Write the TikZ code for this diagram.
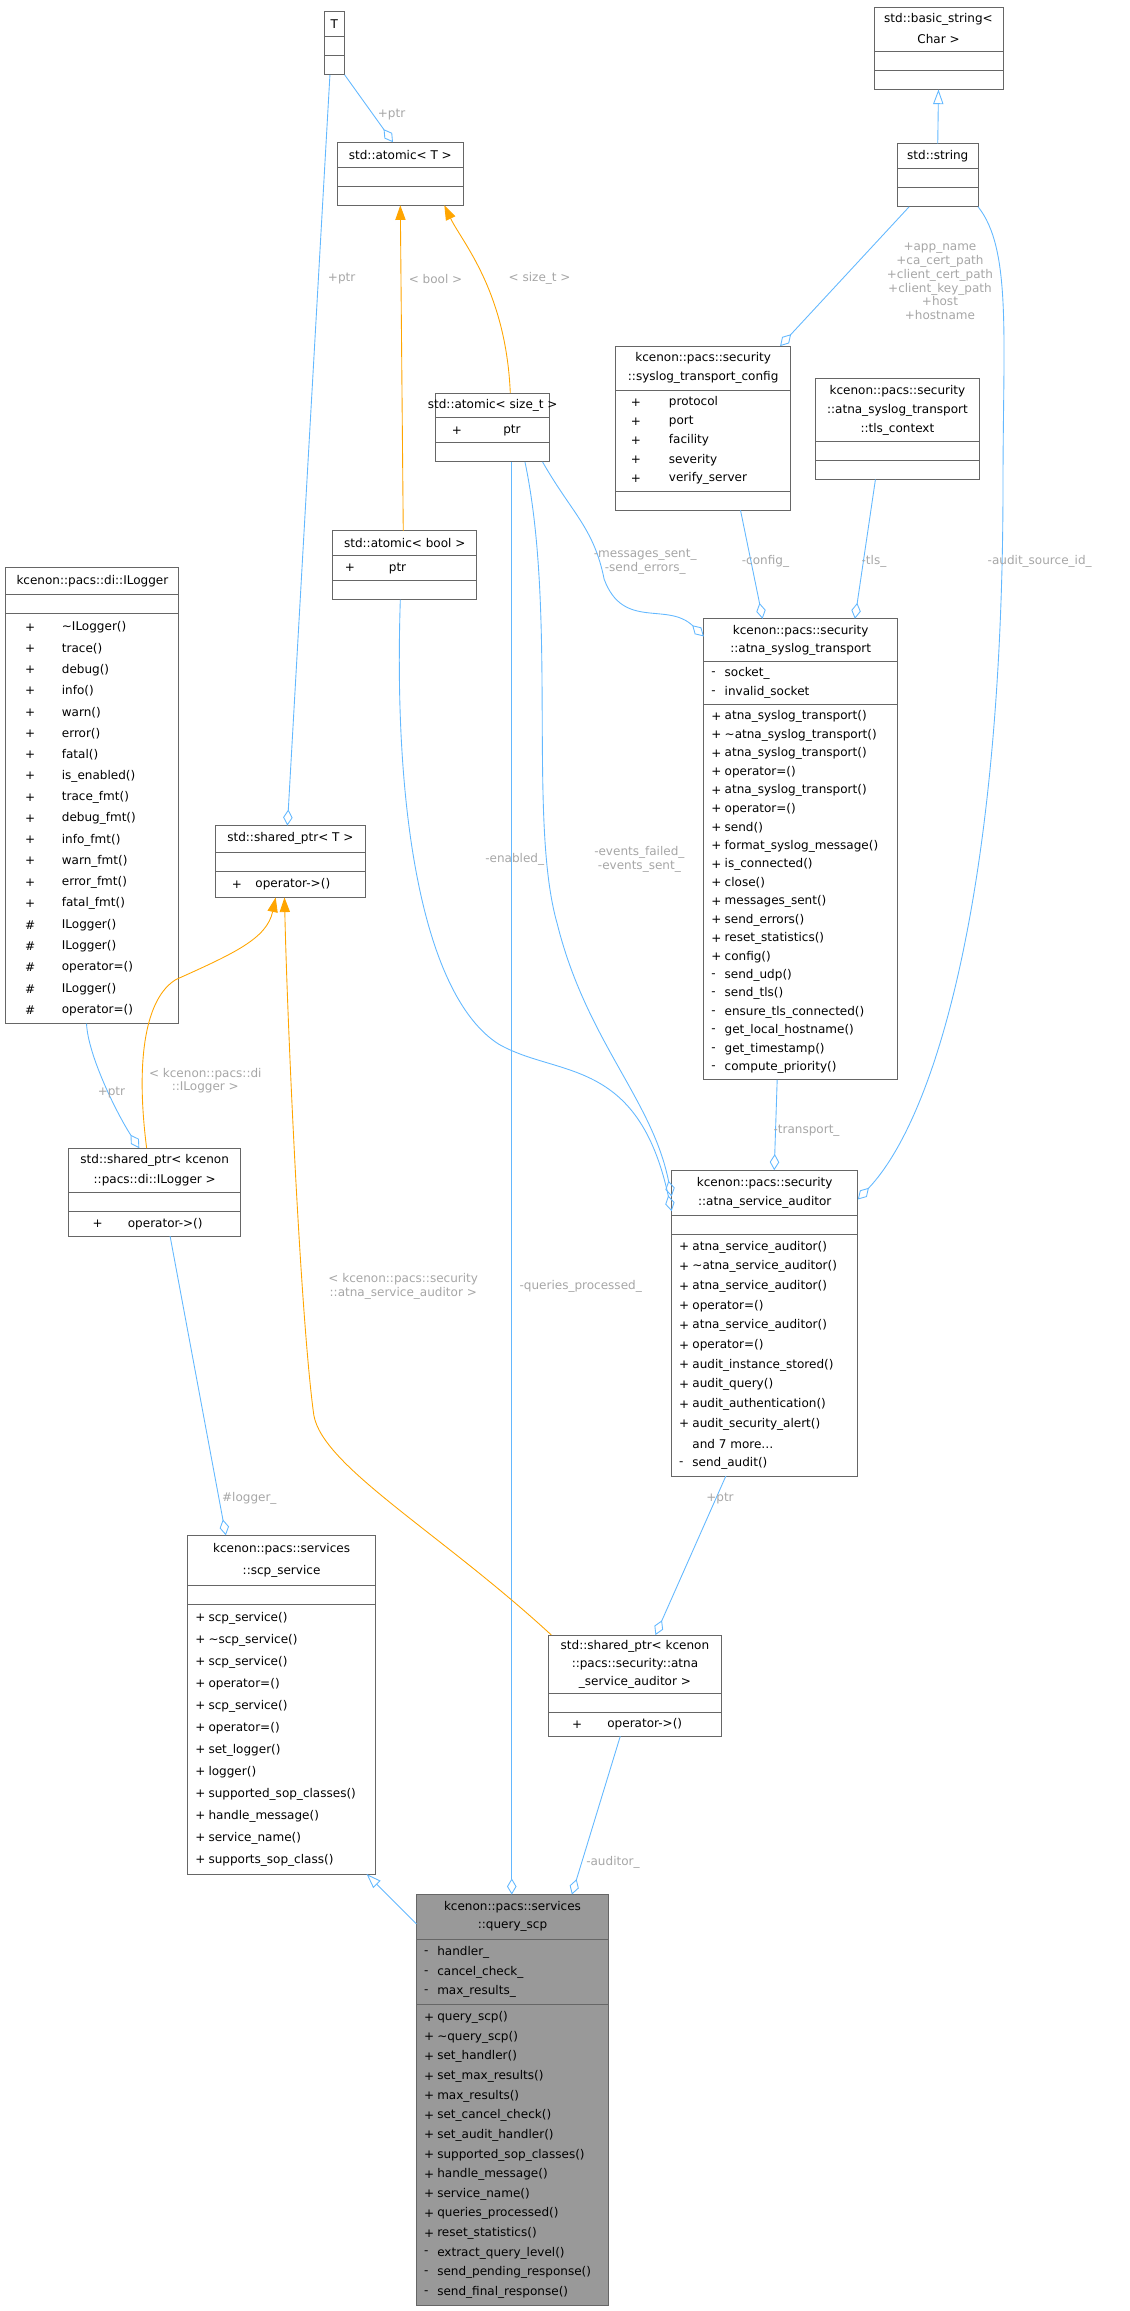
\documentclass[tikz,border=0pt]{standalone}
\usepackage{fontspec}
\setmainfont{DejaVu Sans}
\usetikzlibrary{arrows.meta,positioning}

\definecolor{edgeblue}{RGB}{99,184,255}
\definecolor{tmplorange}{RGB}{255,165,0}
\definecolor{boxgray}{RGB}{102,102,102}

\tikzset{
  box/.style={draw=boxgray,line width=0.6pt,inner sep=0pt,outer sep=0pt},
  boxline/.style={draw=boxgray,line width=0.6pt},
  txt/.style={inner sep=0pt,font=\fontsize{8.2}{9.5}\selectfont},
  lbl/.style={inner sep=0pt,align=center,text=black!35,font=\fontsize{8.2}{9.4}\selectfont},
  assoc/.style={draw=edgeblue,line width=0.6pt,-{Diamond[open,length=11pt,width=6.5pt]}},
  inh/.style={draw=edgeblue,line width=0.6pt,-{Triangle[open,length=10pt,width=7pt]}},
  tmpl/.style={draw=tmplorange,line width=0.6pt,-{Triangle[length=10pt,width=7pt]}},
}

% class box: name, x, y, width, row, fill, header, attributes, methods
% sign and name offsets are taken from \sx and \nx
\def\sx{5}\def\nx{14}
\newcommand\umlbox[9]{%
  \gdef\nh{0}\gdef\na{0}\gdef\nm{0}
  \foreach \t [count=\i] in {#7} {\xdef\nh{\i}}
  \foreach \s/\t [count=\i] in {#8} {\xdef\na{\i}}
  \foreach \s/\t [count=\i] in {#9} {\xdef\nm{\i}}
  \pgfmathsetmacro\ya{#3+\nh*#5+4}
  \pgfmathsetmacro\yb{\ya+(\na==0 ? 13 : \na*#5+4)}
  \pgfmathsetmacro\yc{\yb+(\nm==0 ? 13 : \nm*#5+4)}
  \pgfmathsetmacro\hgt{\yc-#3}
  \node[box,fill=#6,minimum width=#4pt,minimum height=\hgt pt,anchor=north west] (#1) at (#2,#3) {};
  \draw[boxline] (#2,\ya) -- ++(#4,0);
  \draw[boxline] (#2,\yb) -- ++(#4,0);
  \foreach \t [count=\i] in {#7}
    \node[txt] (#1h\i) at (#2+#4/2,#3+2+\i*#5-#5/2) {\t};
  \foreach \s/\t [count=\i] in {#8} {
    \node[txt,anchor=west] (#1as\i) at (#2+\sx,\ya+2+\i*#5-#5/2) {\s};
    \node[txt,anchor=west] (#1a\i) at (#2+\nx,\ya+2+\i*#5-#5/2) {\t};}
  \foreach \s/\t [count=\i] in {#9} {
    \node[txt,anchor=west] (#1ms\i) at (#2+\sx,\yb+2+\i*#5-#5/2) {\s};
    \node[txt,anchor=west] (#1m\i) at (#2+\nx,\yb+2+\i*#5-#5/2) {\t};}
}

\begin{document}
\begin{tikzpicture}[x=1pt,y=-1pt]
  \useasboundingbox (0,0) rectangle (770,1576);

  % classes
  \umlbox{T}{221}{8}{14}{13}{white}{T}{}{}
  \umlbox{atomT}{230}{97}{86}{13}{white}{std::atomic< T >}{}{}
  \umlbox{bstr}{596}{5}{88}{13}{white}{std::basic\_string<,Char >}{}{}
  \umlbox{str}{612}{98}{55}{13}{white}{std::string}{}{}
  \def\sx{11}\def\nx{46}
  \umlbox{atomsz}{297}{268}{78}{13}{white}{std::atomic< size\_t >}{+/ptr}{}
  \def\sx{8}\def\nx{38}
  \umlbox{atombool}{227}{362}{98}{13}{white}{std::atomic< bool >}{+/ptr}{}
  \def\sx{10}\def\nx{36}
  \umlbox{cfg}{420}{236}{119}{13}{white}{kcenon::pacs::security,::syslog\_transport\_config}
    {+/protocol,+/port,+/facility,+/severity,+/verify\_server}{}
  \umlbox{tls}{556}{258}{112}{13}{white}{kcenon::pacs::security,::atna\_syslog\_transport,::tls\_context}{}{}
  \def\sx{5}\def\nx{14}
  \umlbox{trans}{480}{422}{132}{12.6}{white}{kcenon::pacs::security,::atna\_syslog\_transport}
    {-/socket\_,-/invalid\_socket}
    {+/atna\_syslog\_transport(),+/\textasciitilde atna\_syslog\_transport(),+/atna\_syslog\_transport(),
     +/operator=(),+/atna\_syslog\_transport(),+/operator=(),+/send(),+/format\_syslog\_message(),
     +/is\_connected(),+/close(),+/messages\_sent(),+/send\_errors(),+/reset\_statistics(),+/config(),
     -/send\_udp(),-/send\_tls(),-/ensure\_tls\_connected(),-/get\_local\_hostname(),-/get\_timestamp(),
     -/compute\_priority()}
  \def\sx{13}\def\nx{38}
  \umlbox{ilog}{4}{387}{118}{14.5}{white}{kcenon::pacs::di::ILogger}{}
    {+/\textasciitilde ILogger(),+/trace(),+/debug(),+/info(),+/warn(),+/error(),+/fatal(),
     +/is\_enabled(),+/trace\_fmt(),+/debug\_fmt(),+/info\_fmt(),+/warn\_fmt(),+/error\_fmt(),
     +/fatal\_fmt(),\#/ILogger(),\#/ILogger(),\#/operator=(),\#/ILogger(),\#/operator=()}
  \def\sx{11}\def\nx{27}
  \umlbox{spT}{147}{563}{102}{14}{white}{std::shared\_ptr< T >}{}{+/operator->()}
  \def\sx{16}\def\nx{40}
  \umlbox{spIL}{47}{783}{117}{13}{white}{std::shared\_ptr< kcenon,::pacs::di::ILogger >}{}{+/operator->()}
  \umlbox{spAud}{374}{1115}{118}{12}{white}{std::shared\_ptr< kcenon,::pacs::security::atna,\_service\_auditor >}{}{+/operator->()}
  \def\sx{5}\def\nx{14}
  \umlbox{aud}{458}{798}{127}{13.4}{white}{kcenon::pacs::security,::atna\_service\_auditor}{}
    {+/atna\_service\_auditor(),+/\textasciitilde atna\_service\_auditor(),+/atna\_service\_auditor(),
     +/operator=(),+/atna\_service\_auditor(),+/operator=(),+/audit\_instance\_stored(),+/audit\_query(),
     +/audit\_authentication(),+/audit\_security\_alert(),{}/and 7 more\ldots,-/send\_audit()}
  \umlbox{scp}{128}{1047}{128}{15}{white}{kcenon::pacs::services,::scp\_service}{}
    {+/scp\_service(),+/\textasciitilde scp\_service(),+/scp\_service(),+/operator=(),+/scp\_service(),
     +/operator=(),+/set\_logger(),+/logger(),+/supported\_sop\_classes(),+/handle\_message(),
     +/service\_name(),+/supports\_sop\_class()}
  \umlbox{query}{284}{1292}{131}{13.4}{black!40}{kcenon::pacs::services,::query\_scp}
    {-/handler\_,-/cancel\_check\_,-/max\_results\_}
    {+/query\_scp(),+/\textasciitilde query\_scp(),+/set\_handler(),+/set\_max\_results(),+/max\_results(),
     +/set\_cancel\_check(),+/set\_audit\_handler(),+/supported\_sop\_classes(),+/handle\_message(),
     +/service\_name(),+/queries\_processed(),+/reset\_statistics(),-/extract\_query\_level(),
     -/send\_pending\_response(),-/send\_final\_response()}

  % relations
  \draw[assoc] (T.south east) -- ([xshift=38pt]atomT.north west);
  \draw[assoc] ([xshift=4pt]T.south west) -- ([xshift=49pt]spT.north west);
  \draw[tmpl] ([xshift=48pt]atombool.north west) -- ([xshift=43pt]atomT.south west);
  \draw[tmpl] ([xshift=51pt]atomsz.north west) .. controls +(-3,-70) and +(12,25) .. ([xshift=73pt]atomT.south west);
  \draw[inh] (str.north) -- (bstr.south);
  \draw[assoc] ([xshift=8pt]str.south west) -- ([xshift=112pt]cfg.north west);
  \draw[assoc] (str.south east) .. controls (690,170) and (684,230) .. (684,330)
    .. controls (684,600) and (640,760) .. ([yshift=-20pt]aud.north east);
  \draw[assoc] ([xshift=73pt]atomsz.south west) .. controls (390,350) and (405,360) .. (412,395)
    .. controls (425,430) and (455,410) .. ([yshift=-12pt]trans.north west);
  \draw[assoc] ([xshift=85pt]cfg.south west) .. controls (512,380) .. ([xshift=40pt]trans.north west);
  \draw[assoc] ([xshift=41pt]tls.south west) -- ([xshift=103pt]trans.north west);
  \draw[assoc] ([xshift=50pt]trans.south west) -- ([xshift=70pt]aud.north west);
  \draw[assoc] ([xshift=46pt]atombool.south west) .. controls (268,560) and (290,680) .. (340,712)
    .. controls (380,735) and (435,720) .. ([yshift=-28pt]aud.north west);
  \draw[assoc] ([xshift=61pt]atomsz.south west) .. controls (380,420) and (360,560) .. (380,630)
    .. controls (400,710) and (445,750) .. ([yshift=-18pt]aud.north west);
  \draw[assoc] ([xshift=52pt]atomsz.south west) -- ([xshift=65pt]query.north west);
  \draw[assoc] ([xshift=55pt]ilog.south west) .. controls (60,720) and (80,760) .. ([xshift=48pt]spIL.north west);
  \draw[tmpl] ([xshift=53pt]spIL.north west) .. controls (92,720) and (100,680) .. (120,668)
    .. controls (160,650) and (182,640) .. ([xshift=41pt]spT.south west);
  \draw[tmpl] ([xshift=2pt]spAud.north west) .. controls (300,1045) and (220,1000) .. (214,965)
    .. controls (205,900) and (196,700) .. ([xshift=47pt]spT.south west);
  \draw[assoc] ([xshift=69pt]spIL.south west) -- ([xshift=26pt]scp.north west);
  \draw[assoc] ([xshift=37pt]aud.south west) -- ([xshift=73pt]spAud.north west);
  \draw[inh] ([yshift=-20pt]query.north west) -- ([xshift=122pt]scp.south west);
  \draw[assoc] ([xshift=49pt]spAud.south west) -- ([xshift=106pt]query.north west);

  % labels
  \node[lbl] (lTptr) at (267,78) {+ptr};
  \node[lbl] (lTsp) at (233,190) {+ptr};
  \node[lbl] (lbool) at (297,190) {< bool >};
  \node[lbl] (lsize) at (368,190) {< size\_t >};
  \node[lbl] (lstr) at (641,192) {+app\_name\\+ca\_cert\_path\\+client\_cert\_path\\+client\_key\_path\\+host\\+hostname};
  \node[lbl] (lsrc) at (709,383) {-audit\_source\_id\_};
  \node[lbl] (lmsg) at (440,383) {-messages\_sent\_\\-send\_errors\_};
  \node[lbl] (lcfg) at (522,383) {-config\_};
  \node[lbl] (ltls) at (596,383) {-tls\_};
  \node[lbl] (lena) at (351,586) {-enabled\_};
  \node[lbl] (levt) at (436,586) {-events\_failed\_\\-events\_sent\_};
  \node[lbl] (ltrans) at (550,771) {-transport\_};
  \node[lbl] (lILptr) at (76,745) {+ptr};
  \node[lbl] (lIL) at (140,737) {< kcenon::pacs::di\\::ILogger >};
  \node[lbl] (lsec) at (275,877) {< kcenon::pacs::security\\::atna\_service\_auditor >};
  \node[lbl] (lqp) at (396,877) {-queries\_processed\_};
  \node[lbl] (llog) at (170,1022) {\#logger\_};
  \node[lbl] (laudptr) at (491,1022) {+ptr};
  \node[lbl] (laud) at (418,1270) {-auditor\_};
\end{tikzpicture}
\end{document}
